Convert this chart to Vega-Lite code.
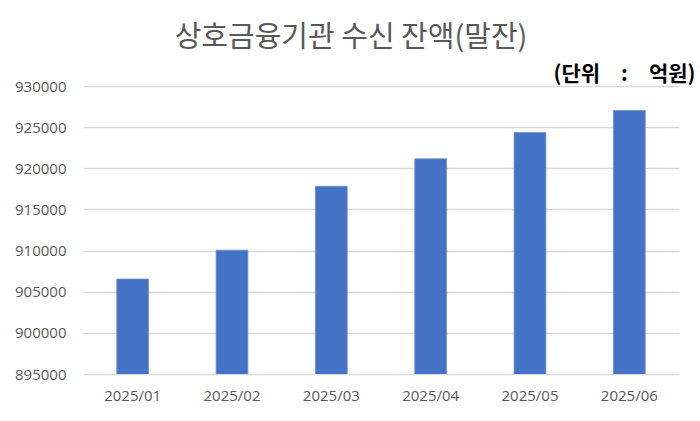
{
  "$schema": "https://vega.github.io/schema/vega-lite/v6.json",
  "width": 596,
  "height": 288,
  "autosize": "none",
  "padding": {"left": 83, "top": 86, "right": 21, "bottom": 47},
  "background": "white",
  "title": {
    "text": "상호금융기관 수신 잔액(말잔)",
    "font": "Noto Sans CJK KR",
    "fontSize": 29,
    "fontWeight": "normal",
    "color": "#595959",
    "anchor": "middle",
    "frame": "group",
    "dx": -30,
    "offset": 10
  },
  "data": {
    "values": [
      {"month": "2025/01", "value": 906540},
      {"month": "2025/02", "value": 910050},
      {"month": "2025/03", "value": 917820},
      {"month": "2025/04", "value": 921150},
      {"month": "2025/05", "value": 924350},
      {"month": "2025/06", "value": 927030}
    ]
  },
  "resolve": {"axis": {"x": "independent"}},
  "layer": [
    {
      "mark": {"type": "bar", "color": "#4472C4", "stroke": "#6E93D6", "strokeWidth": 0.8, "clip": true},
      "encoding": {
        "x": {
          "field": "month",
          "type": "ordinal",
          "scale": {"paddingInner": 0.68, "paddingOuter": 0.34},
          "axis": {
            "orient": "bottom",
            "title": null,
            "labelAngle": 0,
            "labelFont": "Open Sans",
            "labelFontSize": 15,
            "labelColor": "#595959",
            "labelPadding": 14,
            "ticks": false,
            "domain": false,
            "grid": false
          }
        },
        "y": {
          "field": "value",
          "type": "quantitative",
          "scale": {"domain": [895000, 930000], "zero": false, "nice": false},
          "axis": {
            "title": null,
            "values": [895000, 900000, 905000, 910000, 915000, 920000, 925000, 930000],
            "format": "d",
            "labelFont": "Open Sans",
            "labelFontSize": 15,
            "labelColor": "#595959",
            "labelPadding": 17,
            "ticks": false,
            "domain": false,
            "grid": true,
            "gridColor": "#D9D9D9",
            "gridWidth": 1.5,
            "zindex": 0
          }
        }
      }
    },
    {
      "mark": {"type": "bar", "opacity": 0},
      "encoding": {
        "x": {
          "field": "month",
          "type": "ordinal",
          "axis": {
            "orient": "top",
            "title": "(단위　:　억원)",
            "titleFont": "Noto Sans CJK KR",
            "titleFontSize": 21,
            "titleFontWeight": "bold",
            "titleColor": "#000000",
            "titleAlign": "right",
            "titleAnchor": "end",
            "titleX": 612,
            "titlePadding": 2,
            "labels": false,
            "ticks": false,
            "domain": false,
            "grid": false
          }
        },
        "y": {"field": "value", "type": "quantitative"}
      }
    }
  ],
  "config": {"view": {"stroke": null}}
}
